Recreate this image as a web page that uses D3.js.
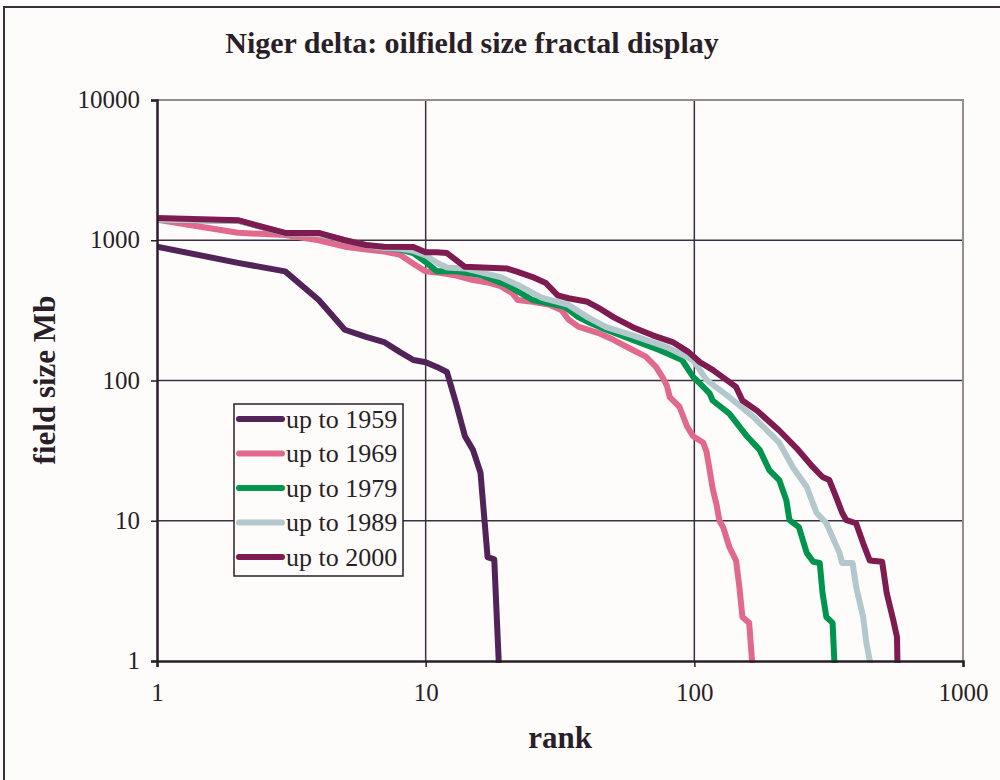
<!DOCTYPE html>
<html>
<head>
<meta charset="utf-8">
<script src="https://cdn.jsdelivr.net/npm/d3@7/dist/d3.min.js"></script>
<style>
  html, body { margin: 0; padding: 0; background: #fdfcfa; }
  svg { display: block; }
  text { font-family: "Liberation Serif", "Times New Roman", serif; fill: #2a1f28; }
</style>
</head>
<body>
<svg id="chart" width="1000" height="780"></svg>
<script>
// ---- data (rank, field size in Mb) ----
const seriesNames = ["up to 1959", "up to 1969", "up to 1979", "up to 1989", "up to 2000"];
const seriesColors = ["#522358", "#e0698d", "#00944e", "#b3c8cc", "#7e1b50"];

const s1959 = [[1,900],[2,690],[3,600],[4,375],[5,230],[6,205],[7,188],[8,160],[9,140],[10,135],[11,125],[12,115],[13,68],[14,40],[15,32],[16,22],[17,5.5],[18,5.3],[19,0.5]];

const s1969 = [[1,1400],[2,1130],[3,1090],[4,1000],[5,900],[6,860],[7,830],[8,790],[9,680],[10,600],[11,590],[13,560],[15,520],[17,500],[19,470],[21,420],[22,375],[25,364],[29,346],[32,318],[34,272],[37,242],[44,218],[50,195],[59,165],[66,148],[72,125],[76,106],[79,92],[81,76],[88,65],[94,47],[99,40],[108,36],[111,31],[114,23],[117,17],[121,13],[124,10],[128,9],[135,6.5],[143,5.2],[147,3.4],[151,2.06],[160,1.87],[164,1],[165,0.9]];

const s1979 = [[1,1400],[2,1380],[3,1120],[4,1110],[5,1000],[6,920],[7,880],[8,860],[9,810],[10,700],[11,600],[13,600],[16,565],[20,480],[25,375],[27,364],[33,335],[37,283],[41,257],[47,230],[59,195],[74,165],[90,140],[99,106],[105,95],[114,81],[117,72],[135,58],[157,40],[175,32],[190,23],[207,19.5],[220,14],[226,10.1],[245,9],[262,5.9],[277,5.1],[293,5],[300,3.05],[310,2.06],[327,1.87],[332,1],[333,0.9]];

const s1989 = [[1,1400],[2,1380],[3,1120],[4,1110],[5,1000],[6,920],[7,880],[8,870],[9,840],[10,780],[11,690],[12,640],[14,630],[19,546],[22,480],[27,390],[34,346],[40,283],[47,240],[59,210],[79,173],[99,140],[111,101],[135,76],[166,55],[207,36],[233,24],[262,17.4],[285,11.4],[310,9.6],[347,5.9],[355,5],[388,5],[400,3.4],[425,2.06],[437,1.34],[450,1],[452,0.9]];

const s2000 = [[1,1440],[2,1390],[3,1127],[4,1127],[5,1000],[6,925],[7,900],[9,895],[10,820],[11,820],[12,810],[14,647],[20,630],[22,594],[25,546],[28,496],[31,405],[34,386],[40,364],[44,330],[50,283],[59,240],[70,210],[83,188],[95,160],[105,135],[117,119],[143,90],[151,72],[171,61],[207,44],[240,33],[277,24],[300,20.5],[318,19.5],[337,14.8],[355,11.4],[368,10.1],[400,9.6],[425,6.9],[450,5.2],[500,5.1],[520,3.05],[550,1.96],[568,1.48],[570,1],[571,0.9]];

const seriesData = [s1959, s1969, s1979, s1989, s2000];
const xTicks = [1, 10, 100, 1000];
const yTicks = [1, 10, 100, 1000, 10000];

// ---- layout ----
const svg = d3.select("#chart");
const L = 157, R = 963, T = 100, B = 661;

svg.append("rect").attr("width", 1000).attr("height", 780).attr("fill", "#fdfcfa");
// outer frame (left + top visible)
svg.append("path").attr("d", "M4,780 L4,7 L1000,7").attr("fill", "none")
  .attr("stroke", "#3a2e3a").attr("stroke-width", 2);

const x = d3.scaleLog().domain([1, 1000]).range([L, R]);
const y = d3.scaleLog().domain([1, 10000]).range([B, T]);

// plot area
svg.append("rect").attr("x", L).attr("y", T).attr("width", R - L).attr("height", B - T)
  .attr("fill", "#fdfcfa");

// gridlines
const grid = svg.append("g");
grid.selectAll(".hg").data(yTicks.filter(d => d > 1 && d < 10000)).enter().append("line")
  .attr("x1", L).attr("x2", R).attr("y1", d => y(d)).attr("y2", d => y(d))
  .attr("stroke", "#3b3040").attr("stroke-width", 1.5);
grid.selectAll(".vg").data(xTicks.filter(d => d > 1 && d < 1000)).enter().append("line")
  .attr("y1", T).attr("y2", B).attr("x1", d => x(d)).attr("x2", d => x(d))
  .attr("stroke", "#3b3040").attr("stroke-width", 1.5);

// top and right plot border (gray)
svg.append("path").attr("d", `M${L},${T} L${R},${T} L${R},${B}`).attr("fill", "none")
  .attr("stroke", "#968c8c").attr("stroke-width", 2);

// series lines
svg.append("clipPath").attr("id", "clip").append("rect")
  .attr("x", L).attr("y", T).attr("width", R - L).attr("height", B - T + 2);

const line = d3.line().x(d => x(d[0])).y(d => y(d[1]));
const lines = svg.append("g").attr("clip-path", "url(#clip)");
seriesData.forEach((s, i) => {
  lines.append("path").datum(s).attr("d", line).attr("fill", "none")
    .attr("stroke", seriesColors[i]).attr("stroke-width", 6)
    .attr("stroke-linejoin", "round").attr("stroke-linecap", "butt");
});

// axes
const xAxis = svg.append("g").attr("transform", `translate(0,${B})`)
  .call(d3.axisBottom(x).tickValues(xTicks).tickFormat(d3.format("d")).tickSize(6).tickPadding(16));
const yAxis = svg.append("g").attr("transform", `translate(${L},0)`)
  .call(d3.axisLeft(y).tickValues(yTicks).tickFormat(d3.format("d")).tickSize(6).tickPadding(11));
[xAxis, yAxis].forEach(a => {
  a.select(".domain").attr("stroke", "#2a1f28").attr("stroke-width", 2.5);
  a.selectAll(".tick line").attr("stroke", "#2a1f28").attr("stroke-width", 1.5);
  a.selectAll(".tick text").style("font-family", "'Liberation Serif', serif")
    .style("font-size", "25px").attr("fill", "#2a1f28");
});
yAxis.selectAll(".tick text").attr("dy", "0.3em");

// title and axis titles
svg.append("text").attr("x", 472).attr("y", 53).attr("text-anchor", "middle")
  .style("font-size", "30px").style("font-weight", "bold")
  .text("Niger delta: oilfield size fractal display");
svg.append("text").attr("x", 560).attr("y", 748).attr("text-anchor", "middle")
  .style("font-size", "31px").style("font-weight", "bold").text("rank");
svg.append("text").attr("transform", "translate(55,380) rotate(-90)").attr("text-anchor", "middle")
  .style("font-size", "31px").style("font-weight", "bold").text("field size Mb");

// legend
const lg = svg.append("g").attr("transform", "translate(234,404)");
lg.append("rect").attr("width", 169).attr("height", 172).attr("fill", "#fdfcfa")
  .attr("stroke", "#2a1f28").attr("stroke-width", 1.5);
seriesNames.forEach((n, i) => {
  const yy = 15 + i * 34.5;
  lg.append("line").attr("x1", 5).attr("x2", 48).attr("y1", yy).attr("y2", yy)
    .attr("stroke", seriesColors[i]).attr("stroke-width", 6).attr("stroke-linecap", "round");
  lg.append("text").attr("x", 52).attr("y", yy).attr("dy", "0.33em")
    .style("font-size", "26px").text(n);
});
</script>
</body>
</html>
